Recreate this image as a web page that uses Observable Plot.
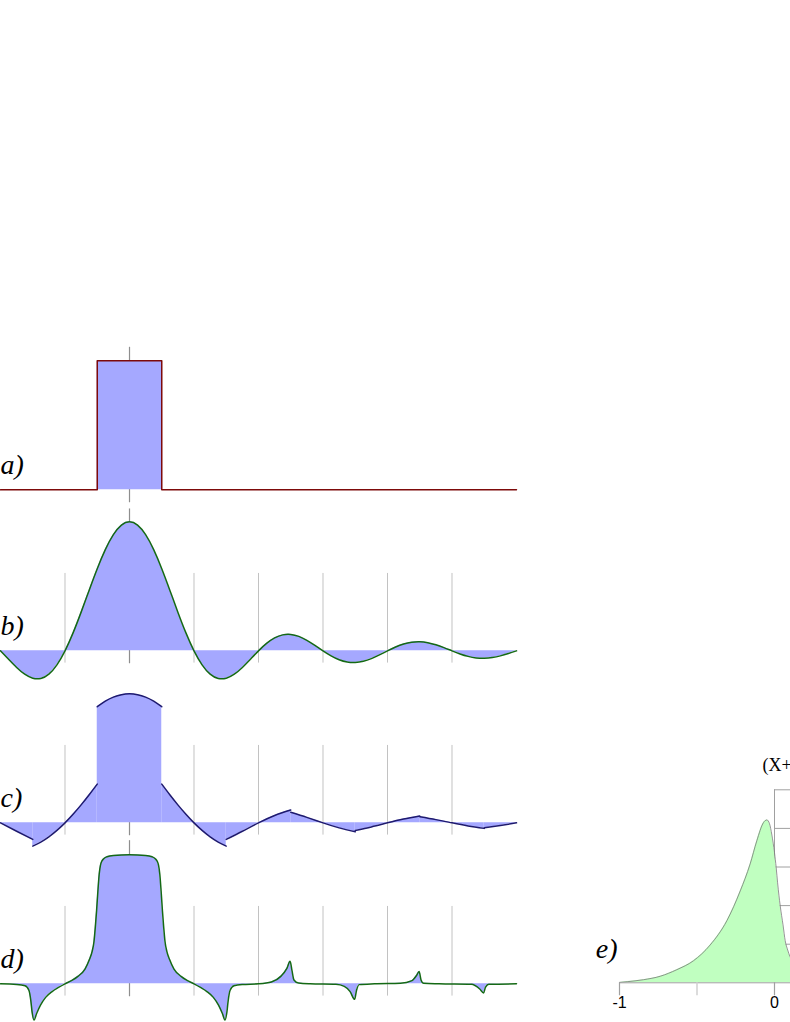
<!DOCTYPE html>
<html><head><meta charset="utf-8">
<script src="https://cdn.jsdelivr.net/npm/d3@7"></script>
<script src="https://cdn.jsdelivr.net/npm/@observablehq/plot@0.6"></script>
<style>
html,body{margin:0;padding:0;background:#fff;}
#root{position:relative;width:790px;height:1022px;overflow:hidden;background:#fff;}
#root svg{position:absolute;overflow:visible;background:transparent;}
</style></head><body><div id="root"></div>
<script>
// ---------- data ----------
const panelLabels = ["a)", "b)", "c)", "d)", "e)"];

// a) rectangle
const aX = [-2, -0.5, -0.5, 0.5, 0.5, 6];
const aY = [0, 0, 1, 1, 0, 0];

// b) main curve
const bX = [-2,-1.875,-1.75,-1.625,-1.5,-1.375,-1.25,-1.125,-1,-0.875,-0.75,-0.625,-0.5,-0.375,-0.25,-0.125,
  0,0.125,0.25,0.375,0.5,0.625,0.75,0.875,1,1.125,1.25,1.375,1.5,1.625,1.75,1.875,
  2,2.125,2.25,2.375,2.5,2.625,2.75,2.875,3,3.125,3.25,3.375,3.5,3.625,3.75,3.875,
  4,4.125,4.25,4.375,4.5,4.625,4.75,4.875,5,5.125,5.25,5.375,5.5,5.625,5.75,5.875,6];
const bY = [0,-0.0650,-0.1286,-0.1810,-0.2122,-0.2139,-0.1801,-0.1083,0,0.1392,0.3001,0.4705,0.6366,0.7842,0.9003,0.9745,
  1,0.9745,0.9003,0.7842,0.6366,0.4705,0.3001,0.1392,0,-0.1083,-0.1801,-0.2139,-0.2122,-0.1810,-0.1286,-0.0650,
  0,0.0573,0.1000,0.1238,0.1273,0.1120,0.0818,0.0424,0,-0.0390,-0.0693,-0.0871,-0.0909,-0.0811,-0.0600,-0.0314,
  0,0.0295,0.0530,0.0672,0.0707,0.0636,0.0474,0.0250,0,-0.0238,-0.0429,-0.0547,-0.0579,-0.0523,-0.0391,-0.0207,0];

// c) piecewise curve (piece id, x, y)
const cPiece = [-2,-2,-2, -1,-1,-1,-1,-1,-1,-1,-1,-1, 0,0,0,0,0,0,0,0,0, 1,1,1,1,1,1,1,1,1,
  2,2,2,2,2, 3,3,3,3,3, 4,4,4,4,4, 5,5,5,5,5, 6,6,6];
const cX = [-2,-1.75,-1.5, -1.5,-1.375,-1.25,-1.125,-1,-0.875,-0.75,-0.625,-0.5,
  -0.5,-0.375,-0.25,-0.125,0,0.125,0.25,0.375,0.5,
  0.5,0.625,0.75,0.875,1,1.125,1.25,1.375,1.5,
  1.5,1.75,2,2.25,2.5, 2.5,2.75,3,3.25,3.5, 3.5,3.75,4,4.25,4.5, 4.5,4.75,5,5.25,5.5, 5.5,5.75,6];
const cY = [0,-0.0650,-0.1286, -0.1801,-0.1489,-0.1083,-0.0584,0,0.0662,0.1392,0.2177,0.3001,
  0.9003,0.9432,0.9745,0.9936,1,0.9936,0.9745,0.9432,0.9003,
  0.3001,0.2177,0.1392,0.0662,0,-0.0584,-0.1083,-0.1489,-0.1801,
  -0.1286,-0.0650,0,0.0573,0.1000, 0.0818,0.0424,0,-0.0390,-0.0693, -0.0600,-0.0314,0,0.0295,0.0530,
  0.0474,0.0250,0,-0.0238,-0.0429, -0.0391,-0.0207,0];

// d) curve with spikes
const dX = [-2,-1.75,-1.62,-1.56,-1.53,-1.51,-1.48,-1.44,-1.38,-1.3,-1.2,-1.1,-1,-0.9,-0.8,-0.69,-0.62,-0.58,-0.55,-0.53,-0.51,-0.49,-0.47,-0.45,-0.43,-0.4,-0.35,-0.25,
  0,0.25,0.35,0.4,0.43,0.45,0.47,0.49,0.51,0.53,0.55,0.58,0.62,0.69,0.8,0.9,1,1.1,1.2,1.3,1.38,1.44,1.48,1.51,1.53,1.56,1.62,1.75,
  2,2.2,2.35,2.44,2.49,2.52,2.55,2.62,2.8,3.2,3.33,3.42,3.49,3.52,3.56,3.8,4.2,4.38,4.45,4.49,4.52,4.56,4.8,5.3,5.43,5.49,5.52,5.57,6];
const dY = [0,-0.005,-0.015,-0.05,-0.13,-0.22,-0.28,-0.23,-0.165,-0.105,-0.06,-0.028,0,0.025,0.058,0.115,0.19,0.25,0.33,0.44,0.57,0.72,0.85,0.92,0.95,0.97,0.985,0.995,
  1,0.995,0.985,0.97,0.95,0.92,0.85,0.72,0.57,0.44,0.33,0.25,0.19,0.115,0.058,0.025,0,-0.028,-0.06,-0.105,-0.165,-0.23,-0.28,-0.22,-0.13,-0.05,-0.015,-0.005,
  0,0.015,0.06,0.12,0.175,0.10,0.03,0.006,0,-0.004,-0.02,-0.06,-0.12,-0.05,-0.006,0,0.004,0.025,0.065,0.096,0.03,0.004,0,-0.004,-0.04,-0.07,-0.025,-0.003,0];

// e) skewed density
const eX = [-1,-0.9,-0.845,-0.737,-0.63,-0.523,-0.415,-0.307,-0.221,-0.157,-0.114,-0.071,-0.049,-0.032,-0.017,0,0.011,0.02,0.037,0.055,0.069,0.085,0.101,0.12];
const eY = [0.01,0.05,0.08,0.17,0.34,0.57,0.98,1.61,2.38,3.08,3.68,4.15,4.22,4.12,3.83,3.37,2.98,2.59,1.99,1.5,1.09,0.85,0.67,0.55];
const eTitle = "(X+Y)";
const eTickLabels = [-1, 0];
const eMinorTicks = [-0.5];
const eGrid = [1, 2, 3, 4, 5];

const gridXs = [-1, 1, 2, 3, 4, 5];

// ---------- layout / style ----------
const root = document.getElementById("root");
const FILL = "#a5a8ff";
const UX = 64.5, UY = 129;
const serif = "Liberation Serif, Times New Roman, serif";

function place(svg, left, top) {
  svg.style.left = left + "px";
  svg.style.top = top + "px";
  root.appendChild(svg);
}

function panel({baseline, ymin, ymax, label, marks, grid, centerTop}) {
  const height = (ymax - ymin) * UY;
  const m = [];
  if (grid) m.push(Plot.ruleX(gridXs, {y1: -0.095, y2: 0.6, stroke: "#c2c2c2", strokeWidth: 1}));
  m.push(Plot.ruleX([0], {y1: -0.1, y2: centerTop, stroke: "#8e8e8e", strokeWidth: 1.2}));
  m.push(...marks);
  m.push(Plot.text([label], {x: () => -2, y: () => 0, dy: -16, text: d => d, textAnchor: "start", lineAnchor: "bottom",
    fontSize: 28, fontStyle: "italic", fontFamily: serif, fill: "black"}));
  const svg = Plot.plot({
    width: 8 * UX, height, margin: 0,
    x: {domain: [-2, 6], axis: null},
    y: {domain: [ymin, ymax], axis: null},
    style: {background: "transparent", overflow: "visible"},
    marks: m
  });
  place(svg, 0, baseline - ymax * UY);
}

const aData = aX.map((x, i) => ({x, y: aY[i]}));
const bData = bX.map((x, i) => ({x, y: bY[i]}));
const cData = cX.map((x, i) => ({x, y: cY[i], piece: cPiece[i]}));
const dData = dX.map((x, i) => ({x, y: dY[i]}));
const eData = eX.map((x, i) => ({x, y: eY[i]}));

// a
panel({baseline: 489.3, ymin: -0.2, ymax: 1.15, label: panelLabels[0], grid: false, centerTop: 1.105,
  marks: [
    Plot.areaY(aData, {x: "x", y1: 0, y2: "y", fill: FILL}),
    Plot.line(aData, {x: "x", y: "y", stroke: "#7d0a0a", strokeWidth: 1.5})
  ]});
// b
panel({baseline: 650.7, ymin: -0.3, ymax: 1.15, label: panelLabels[1], grid: true, centerTop: 1.1,
  marks: [
    Plot.areaY(bData, {x: "x", y1: 0, y2: "y", fill: FILL, curve: "natural"}),
    Plot.line(bData, {x: "x", y: "y", stroke: "#146914", strokeWidth: 1.5, curve: "natural"})
  ]});
// c
panel({baseline: 822.3, ymin: -0.3, ymax: 1.15, label: panelLabels[2], grid: true, centerTop: 0.6,
  marks: [
    Plot.areaY(cData, {x: "x", y1: 0, y2: "y", z: "piece", fill: FILL, curve: "natural"}),
    Plot.line(cData, {x: "x", y: "y", z: "piece", stroke: "#1e1a6e", strokeWidth: 1.5, curve: "natural"})
  ]});
// d
panel({baseline: 983.3, ymin: -0.35, ymax: 1.15, label: panelLabels[3], grid: true, centerTop: 1.11,
  marks: [
    Plot.areaY(dData, {x: "x", y1: 0, y2: "y", fill: FILL, curve: "monotone-x"}),
    Plot.line(dData, {x: "x", y: "y", stroke: "#146914", strokeWidth: 1.5, curve: "monotone-x"})
  ]});

// e
const EX = 155, EY = 38.6;
const eXmax = 1.2;
const eSvg = Plot.plot({
  width: 59 + (eXmax + 1) * EX, height: 282,
  marginLeft: 59, marginRight: 0, marginTop: 49.3, marginBottom: 282 - 49.3 - 5 * EY,
  x: {domain: [-1, eXmax], axis: null},
  y: {domain: [0, 5], axis: null},
  style: {background: "transparent", overflow: "visible"},
  marks: [
    Plot.ruleY(eGrid, {x1: 0, x2: eXmax, stroke: "#a0a0a0", strokeWidth: 1}),
    Plot.ruleX([0], {y1: 0, y2: 5, stroke: "#a0a0a0", strokeWidth: 1}),
    Plot.areaY(eData, {x: "x", y1: 0, y2: "y", fill: "#c0ffc0", curve: "monotone-x"}),
    Plot.line(eData, {x: "x", y: "y", stroke: "#7a7a7a", strokeWidth: 0.8, curve: "monotone-x"}),
    Plot.ruleY([0], {x1: -1, x2: eXmax, stroke: "#a0a0a0", strokeWidth: 1}),
    Plot.axisX({ticks: eMinorTicks, tickSize: 13, stroke: "#d0d0d0", strokeWidth: 1.5, tickFormat: () => "", label: null}),
    Plot.axisX({ticks: eTickLabels, tickSize: 13, stroke: "#a0a0a0", strokeWidth: 1.2, tickFormat: () => "", label: null}),
    Plot.text(eTickLabels, {x: d => d, y: () => 0, dy: 25, text: d => String(d), textAnchor: "middle", lineAnchor: "bottom",
      fontSize: 16, fontFamily: "Liberation Sans, Arial, sans-serif", fill: "black"}),
    Plot.text([panelLabels[4]], {x: () => -1, y: () => 0, dx: -2, dy: -25, text: d => d, textAnchor: "end", lineAnchor: "bottom",
      fontSize: 28, fontStyle: "italic", fontFamily: serif, fill: "black"}),
    Plot.text([eTitle], {x: () => 0, y: () => 5, dx: -12, dy: -19, text: d => d, textAnchor: "start", lineAnchor: "bottom",
      fontSize: 18, fontFamily: serif, fill: "black", ariaLabel: "etitle"})
  ]
});
place(eSvg, 560, 740);
// italic letters in the title
const tt = eSvg.querySelector('g[aria-label="etitle"] text');
if (tt) tt.innerHTML = '(<tspan font-style="italic">X</tspan>+<tspan font-style="italic">Y</tspan>)';
</script></body></html>
